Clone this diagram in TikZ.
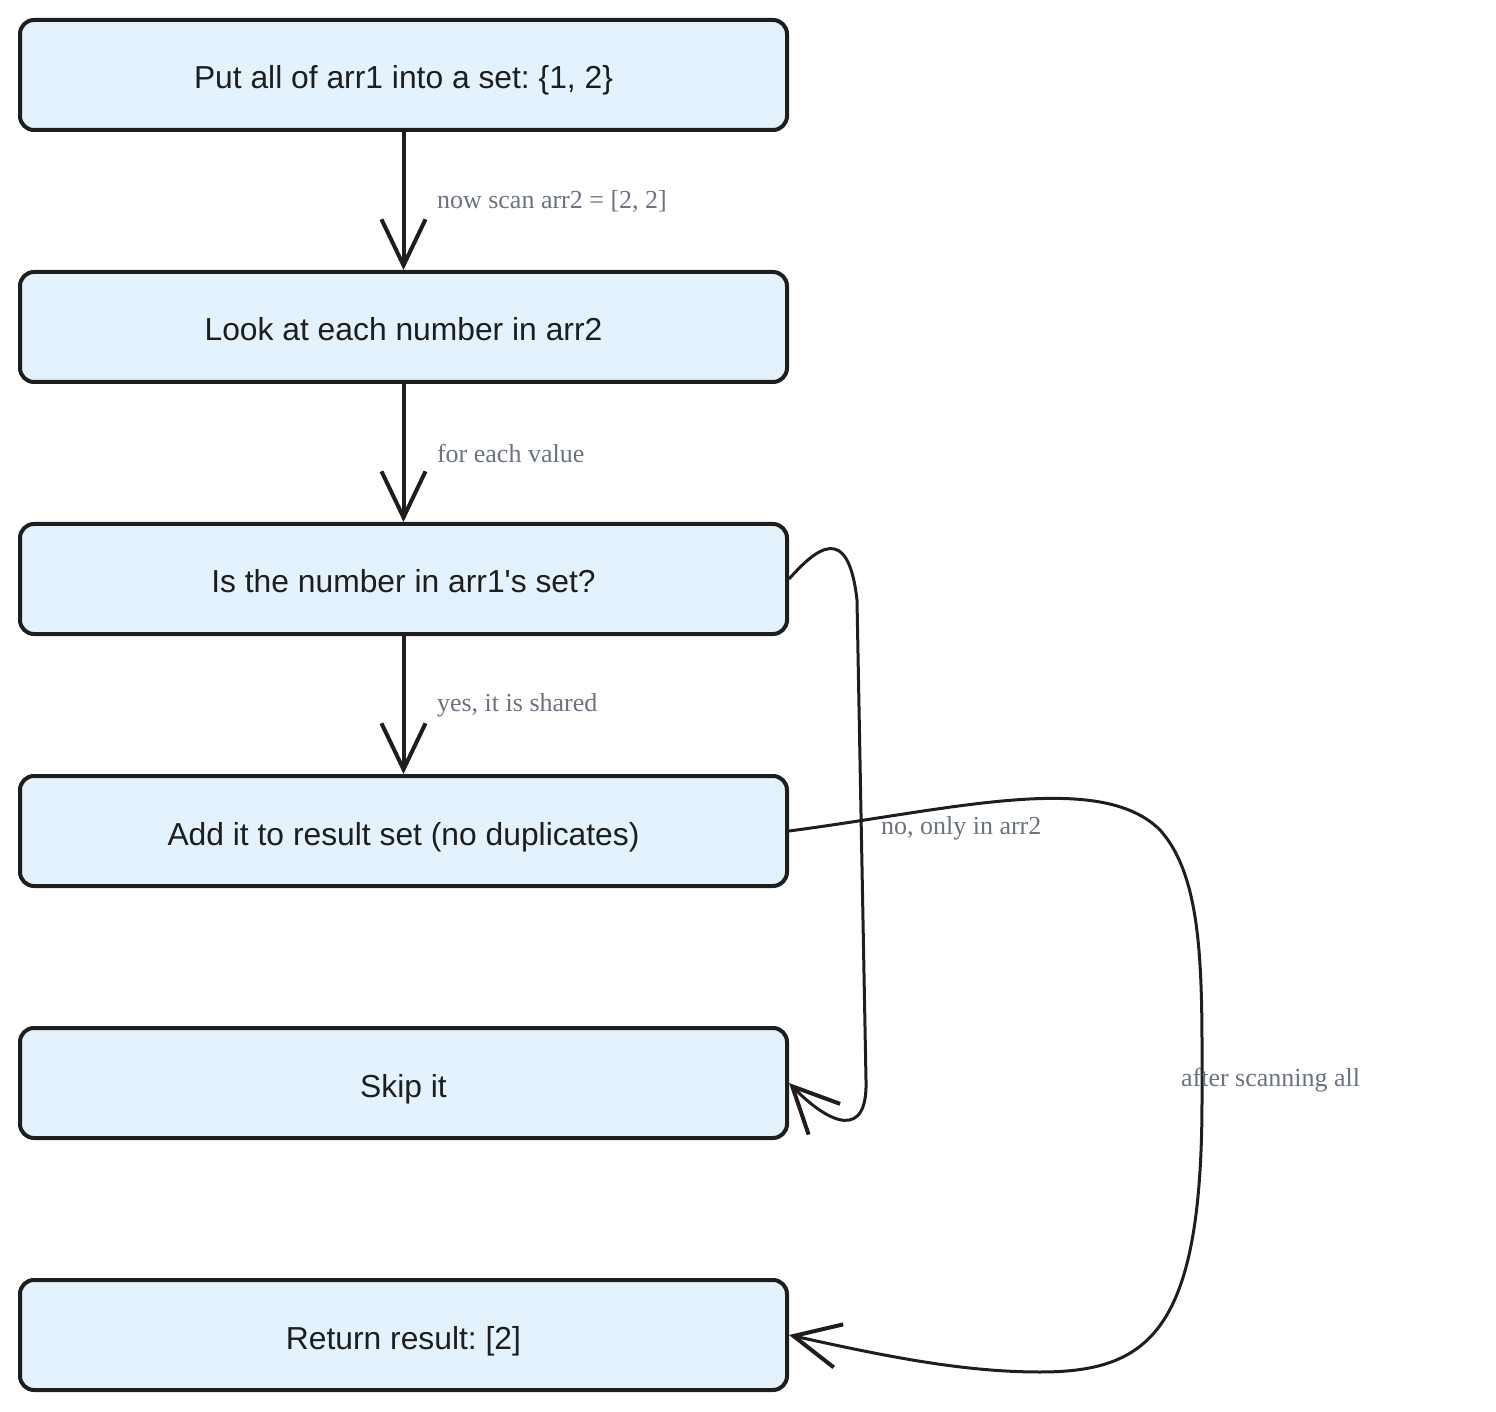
\documentclass[tikz,border=0pt]{standalone}
\usepackage{fontspec}
\setmainfont{Liberation Serif}
\setsansfont{Liberation Sans}
\usetikzlibrary{arrows.meta}
\usepackage{xcolor}
\definecolor{boxfill}{HTML}{E3F2FD}
\definecolor{ink}{HTML}{1E1E1E}
\definecolor{lbl}{HTML}{6B7280}
\frenchspacing

\begin{document}
\begin{tikzpicture}[x=0.5pt, y=-0.5pt,
    box/.style={draw=ink, line width=2pt, fill=boxfill, rounded corners=7pt, minimum width=383.5pt, minimum height=55pt, text height=14pt, text depth=0pt, font=\sffamily\fontsize{15.9}{18}\selectfont, text=ink},
    arr/.style={draw=ink, line width=2pt, -{Straight Barb[length=23pt, width=22pt, line width=2pt]}},
    lab/.style={font=\fontsize{13}{15}\selectfont, text=lbl, anchor=west}]
    \useasboundingbox (0,0) rectangle (1496,1412);
    \node[box] (0) at (403.5,75) {Put all of arr1 into a set: \{1, 2\}};
    \node[box] (1) at (403.5,327) {Look at each number in arr2};
    \node[box] (2) at (403.5,579) {Is the number in arr1\textquotesingle s set?};
    \node[box] (3) at (403.5,831) {Add it to result set (no duplicates)};
    \node[box] (4) at (403.5,1083) {Skip it};
    \node[box] (5) at (403.5,1335) {Return result: [2]};
        \draw[arr] (0) -- (1);
        \draw[arr] (1) -- (2);
        \draw[arr] (2) -- (3);
        \draw[arr, line width=1.5pt] (2.east) .. controls (815,550) and (848,520) .. (857,600) -- (866,1080) .. controls (868,1140) and (830,1125) .. (4.east);
        \draw[arr, line width=1.5pt] (3.east) .. controls (950,810) and (1100,770) .. (1160,830) .. controls (1205,880) and (1202,980) .. (1202,1100) .. controls (1202,1330) and (1150,1372) .. (1040,1372) .. controls (960,1372) and (880,1355) .. (5.east);
    \node[lab] (l0) at (430,201) {now scan arr2 = [2, 2]};
    \node[lab] (l1) at (430,453) {for each value};
    \node[lab] (l2) at (430,705) {yes, it is shared};
    \node[lab] (l3) at (874,828) {no, only in arr2};
    \node[lab] (l4) at (1174,1080) {after scanning all};
\end{tikzpicture}
\end{document}
